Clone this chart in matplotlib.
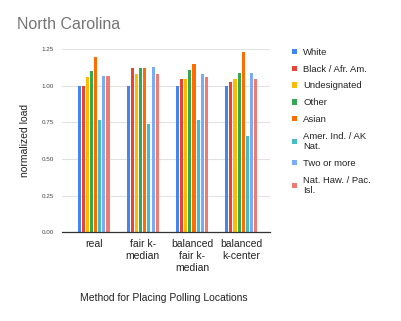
import numpy as np
import matplotlib
matplotlib.use("Agg")
import matplotlib.pyplot as plt
from matplotlib.patches import Patch

plt.rcParams["font.family"] = ["Liberation Sans", "DejaVu Sans"]

methods = ["real", "fair k-\nmedian", "balanced\nfair k-\nmedian", "balanced\nk-center"]
groups = ["White", "Black / Afr. Am.", "Undesignated", "Other", "Asian",
          "Amer. Ind. / AK\nNat.", "Two or more", "Nat. Haw. / Pac.\nIsl."]
colors = ["#4285F4", "#EA4335", "#FBBC04", "#34A853", "#FF6D01",
          "#46BDC6", "#7BAAF7", "#F07B72"]

# normalized load per group, one list per method
real = [1.00, 1.00, 1.06, 1.10, 1.20, 0.77, 1.07, 1.07]
fair_kmedian = [1.00, 1.12, 1.08, 1.12, 1.12, 0.74, 1.13, 1.08]
bal_fair_kmedian = [1.00, 1.05, 1.05, 1.11, 1.15, 0.77, 1.08, 1.06]
bal_kcenter = [1.00, 1.03, 1.05, 1.09, 1.23, 0.66, 1.09, 1.05]
vals = np.array([real, fair_kmedian, bal_fair_kmedian, bal_kcenter])

fig = plt.figure(figsize=(4.02, 3.21), dpi=100)
ax = fig.add_axes([0.154, 0.277, 0.518, 0.569])

x = np.arange(len(methods))
step = 0.0835
for i, (g, c) in enumerate(zip(groups, colors)):
    ax.bar(x + (i - 3.5) * step, vals[:, i], width=step * 0.75, color=c, label=g, zorder=3)

ax.set_xlim(-0.645, 3.59)
ax.set_ylim(0, 1.25)
ax.set_yticks([0, 0.25, 0.5, 0.75, 1.0, 1.25])
ax.set_yticklabels([f"{v:.2f}" for v in [0, 0.25, 0.5, 0.75, 1.0, 1.25]])
ax.set_xticks(x)
ax.set_xticklabels(methods, fontsize=7.5, color="#222222", linespacing=1.25)
ax.tick_params(axis="y", labelsize=4.5, colors="#444444", length=0, pad=6)
ax.tick_params(axis="x", length=0, pad=5)
ax.grid(axis="y", color="#e2e2e2", linewidth=0.8, zorder=0)
for s in ["top", "right", "left"]:
    ax.spines[s].set_visible(False)
ax.spines["bottom"].set_color("#333333")
ax.spines["bottom"].set_linewidth(0.9)
ax.spines["bottom"].set_zorder(4)

ax.set_ylabel("normalized load", fontsize=7.5, color="#222222", labelpad=8)
fig.text(0.408, 0.072, "Method for Placing Polling Locations", ha="center", va="center",
         fontsize=7.5, color="#222222")
fig.text(0.042, 0.925, "North Carolina", ha="left", va="center", fontsize=11.5, color="#757575")

handles = [Patch(facecolor=c, label=g) for g, c in zip(groups, colors)]
fig.legend(handles=handles, loc="upper left", bbox_to_anchor=(0.705, 0.877), frameon=False,
           fontsize=6.8, handlelength=0.55, handleheight=0.55, handletextpad=0.65,
           labelspacing=0.82, labelcolor="#222222")

fig.savefig("out.png", dpi=100)
